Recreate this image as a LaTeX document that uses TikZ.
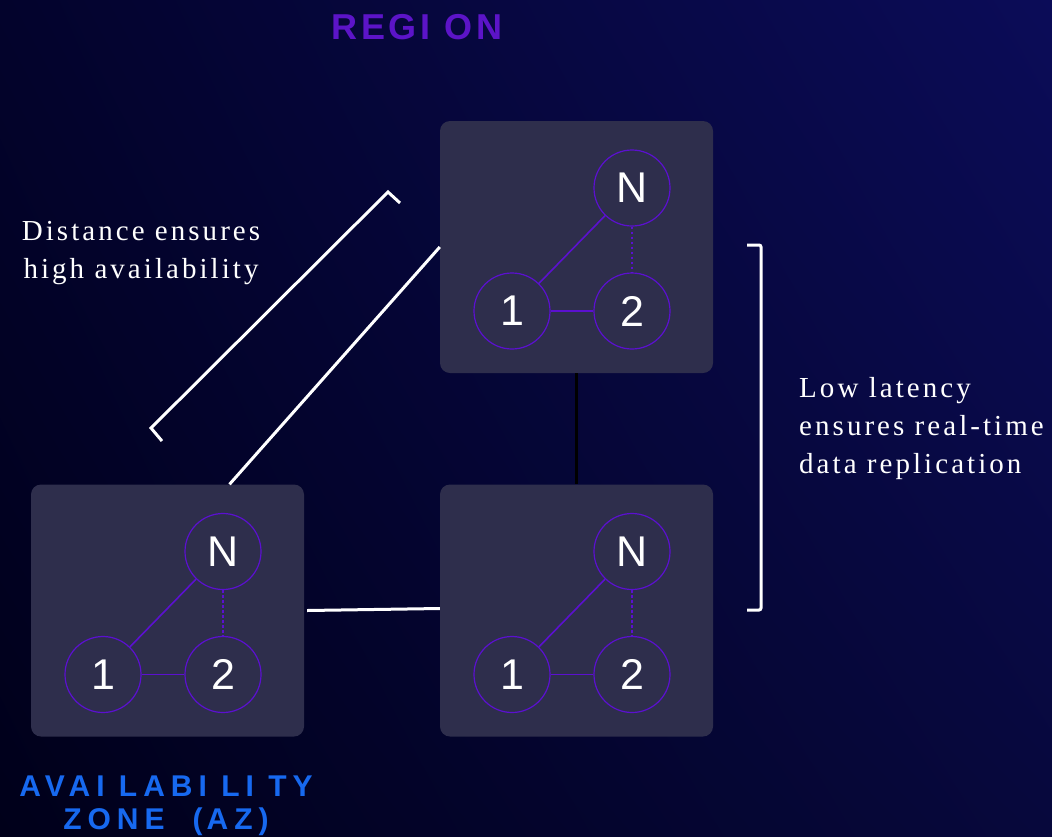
\documentclass[tikz,border=0pt]{standalone}
\usepackage{fontspec}
\usetikzlibrary{shadings}
\setmainfont{Liberation Serif}
\newfontfamily\lsans{Liberation Sans}
\newfontfamily\regionfont[LetterSpace=11]{Liberation Sans}
\newfontfamily\azfont[LetterSpace=20]{Liberation Sans}
\newfontfamily\noteserif[LetterSpace=10.5]{Liberation Serif}
\definecolor{bgUL}{HTML}{03032C}
\definecolor{bgUR}{HTML}{0B0C58}
\definecolor{bgLL}{HTML}{00001A}
\definecolor{bgLR}{HTML}{07083C}
\definecolor{boxc}{HTML}{2E2E4C}
\definecolor{purp}{HTML}{5B10D0}
\definecolor{regionc}{HTML}{5C14C8}
\definecolor{azc}{HTML}{1769F0}
\begin{document}
\begin{tikzpicture}[x=1pt,y=-1pt,
  azbox/.style={fill=boxc, rounded corners=10pt, minimum width=273pt, minimum height=252pt, inner sep=0pt},
  srv/.style={circle, draw=purp, line width=1.2pt, fill=boxc, minimum size=76pt, inner sep=0pt, text=white, font=\lsans\fontsize{43}{43}\selectfont},
  plink/.style={draw=purp, line width=1.6pt},
  dlink/.style={draw=purp, line width=2.2pt, dash pattern=on 2.5pt off 2.5pt},
  conn/.style={draw=white, line width=3pt},
  note/.style={text=white, inner sep=0pt, font=\noteserif\fontsize{29}{38}\selectfont}
]
\useasboundingbox (0,0) rectangle (1052,836);
\shade[upper left=bgUL, upper right=bgUR, lower left=bgLL, lower right=bgLR] (0,0) rectangle (1052,836);

\foreach \b/\x/\y in {t/576.5/247, l/167.5/610.5, r/576.5/610.5}{
  \node[azbox] (\b-box) at (\x,\y) {};
  \node[srv] (\b-N) at (\x+55.5,\y-59) {N};
  \node[srv] (\b-1) at (\x-64.5,\y+64) {1};
  \node[srv] (\b-2) at (\x+55.5,\y+64) {2};
  \draw[plink] (\b-1) -- (\b-N);
  \draw[plink] (\b-1) -- (\b-2);
  \draw[dlink] (\b-N) -- (\b-2);
}

% connectors between zones
\draw[draw=black, line width=3pt] (t-box.south) -- (r-box.north);
\draw[conn] ([xshift=3pt]l-box.east) -- ([yshift=2pt]r-box.west);
\draw[conn] ([xshift=62pt]l-box.north) -- (t-box.west);

% distance bracket
\coordinate (d1) at (162,441);
\coordinate (d2) at (151,428);
\coordinate (d3) at (388,192);
\coordinate (d4) at (400,203);
\draw[conn] (d1) -- (d2) -- (d3) -- (d4);

% latency bracket
\coordinate (b1) at (747,245);
\coordinate (b2) at (761,245);
\coordinate (b3) at (761,610);
\coordinate (b4) at (747,610);
\draw[conn, rounded corners=2pt] (b1) -- (b2) -- (b3) -- (b4);

% labels
\node[text=regionc, inner sep=0pt, anchor=base, font=\regionfont\bfseries\fontsize{36}{40}\selectfont] (region) at (417,39.3) {REGI ON};
\node[text=azc, inner sep=0pt, align=center, font=\azfont\bfseries\fontsize{30}{33}\selectfont] (az) at (166,806) {AVAI LABI LI TY\\ZONE\hspace{28pt}(\hspace{4pt}AZ)\hspace{10pt}};
\node[note, align=center] (dist) at (141,253.5) {Distance ensures\\high availability};
\node[note, align=left, anchor=west] (lat) at (799,429) {Low latency\\ensures real-time\\data replication};
\end{tikzpicture}
\end{document}
